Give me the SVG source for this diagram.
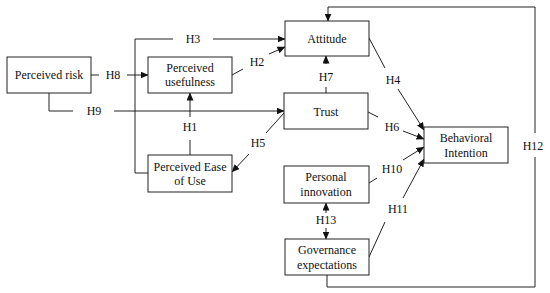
<svg xmlns="http://www.w3.org/2000/svg" width="550" height="293" viewBox="0 0 550 293" font-family="'Liberation Serif', 'Times New Roman', serif">
<defs>
<marker id="arr" markerUnits="userSpaceOnUse" markerWidth="8" markerHeight="7" refX="7.5" refY="3.5" orient="auto">
<path d="M0,0 L8,3.5 L0,7 z" fill="#111"/>
</marker>
</defs>
<style>
.box{fill:#fff;stroke:#222;stroke-width:1}
.t{font-family:'Liberation Serif','Times New Roman',serif;font-size:12px;fill:#111;text-anchor:middle}
.c{fill:none;stroke:#222;stroke-width:1}
.a{marker-end:url(#arr)}
</style>
<rect width="550" height="293" fill="#fff"/>
<g id="connectors">
<line class="c" x1="91" y1="75" x2="99" y2="75"/>
<text class="t" x="113" y="79">H8</text>
<line class="c a" x1="127" y1="75" x2="148" y2="75"/>
<polyline class="c" points="49,93 49,111 73,111"/>
<text class="t" x="94" y="115">H9</text>
<line class="c a" x1="114" y1="111" x2="284" y2="111"/>
<polyline class="c" points="148,173 135,173 135,39 173,39"/>
<text class="t" x="193" y="43">H3</text>
<line class="c a" x1="213" y1="39" x2="285" y2="39"/>
<line class="c" x1="190" y1="155" x2="190" y2="140"/>
<text class="t" x="190" y="131">H1</text>
<line class="c a" x1="190" y1="117" x2="190" y2="93"/>
<line class="c" x1="232" y1="75" x2="243" y2="69"/>
<text class="t" x="257" y="66">H2</text>
<line class="c a" x1="269" y1="54" x2="285" y2="47"/>
<line class="c" x1="326" y1="93" x2="326" y2="87"/>
<text class="t" x="326" y="81">H7</text>
<line class="c a" x1="326" y1="64" x2="326" y2="56"/>
<line class="c" x1="284" y1="113" x2="266" y2="133"/>
<text class="t" x="258" y="147">H5</text>
<line class="c a" x1="249" y1="154" x2="232" y2="172"/>
<line class="c" x1="369" y1="38" x2="385" y2="68"/>
<text class="t" x="393" y="84">H4</text>
<line class="c a" x1="398" y1="89" x2="424" y2="130"/>
<line class="c" x1="368" y1="112" x2="378" y2="117"/>
<text class="t" x="392" y="131">H6</text>
<line class="c a" x1="403" y1="131" x2="424" y2="139"/>
<line class="c" x1="369" y1="183" x2="377" y2="178"/>
<text class="t" x="392" y="173">H10</text>
<line class="c a" x1="403" y1="160" x2="424" y2="147"/>
<line class="c" x1="369" y1="257" x2="385" y2="222"/>
<text class="t" x="398" y="213">H11</text>
<line class="c a" x1="403" y1="198" x2="424" y2="159"/>
<polyline class="c" points="327,275 327,287 535,287 535,157"/>
<text class="t" x="533" y="150">H12</text>
<polyline class="c a" points="535,133 535,7 328,7 328,21"/>
<line class="c a" x1="326" y1="213" x2="326" y2="203"/>
<text class="t" x="326" y="224">H13</text>
<line class="c a" x1="326" y1="228" x2="326" y2="239"/>
</g>
<g id="risk"><rect class="box" x="7" y="57" width="84" height="36"/><text class="t" x="49" y="79">Perceived risk</text></g>
<g id="usefulness"><rect class="box" x="148" y="57" width="84" height="36"/><text class="t" x="190" y="72">Perceived</text><text class="t" x="190" y="86">usefulness</text></g>
<g id="attitude"><rect class="box" x="285" y="21" width="84" height="35"/><text class="t" x="327" y="43">Attitude</text></g>
<g id="trust"><rect class="box" x="284" y="93" width="84" height="36"/><text class="t" x="326" y="116">Trust</text></g>
<g id="ease"><rect class="box" x="148" y="155" width="84" height="37"/><text class="t" x="190" y="171">Perceived Ease</text><text class="t" x="190" y="185">of Use</text></g>
<g id="intention"><rect class="box" x="424" y="127" width="84" height="36"/><text class="t" x="466" y="142">Behavioral</text><text class="t" x="466" y="157">Intention</text></g>
<g id="innovation"><rect class="box" x="284" y="166" width="85" height="37"/><text class="t" x="326" y="181">Personal</text><text class="t" x="326" y="196">innovation</text></g>
<g id="governance"><rect class="box" x="285" y="239" width="84" height="36"/><text class="t" x="327" y="254">Governance</text><text class="t" x="327" y="269">expectations</text></g>
</svg>
